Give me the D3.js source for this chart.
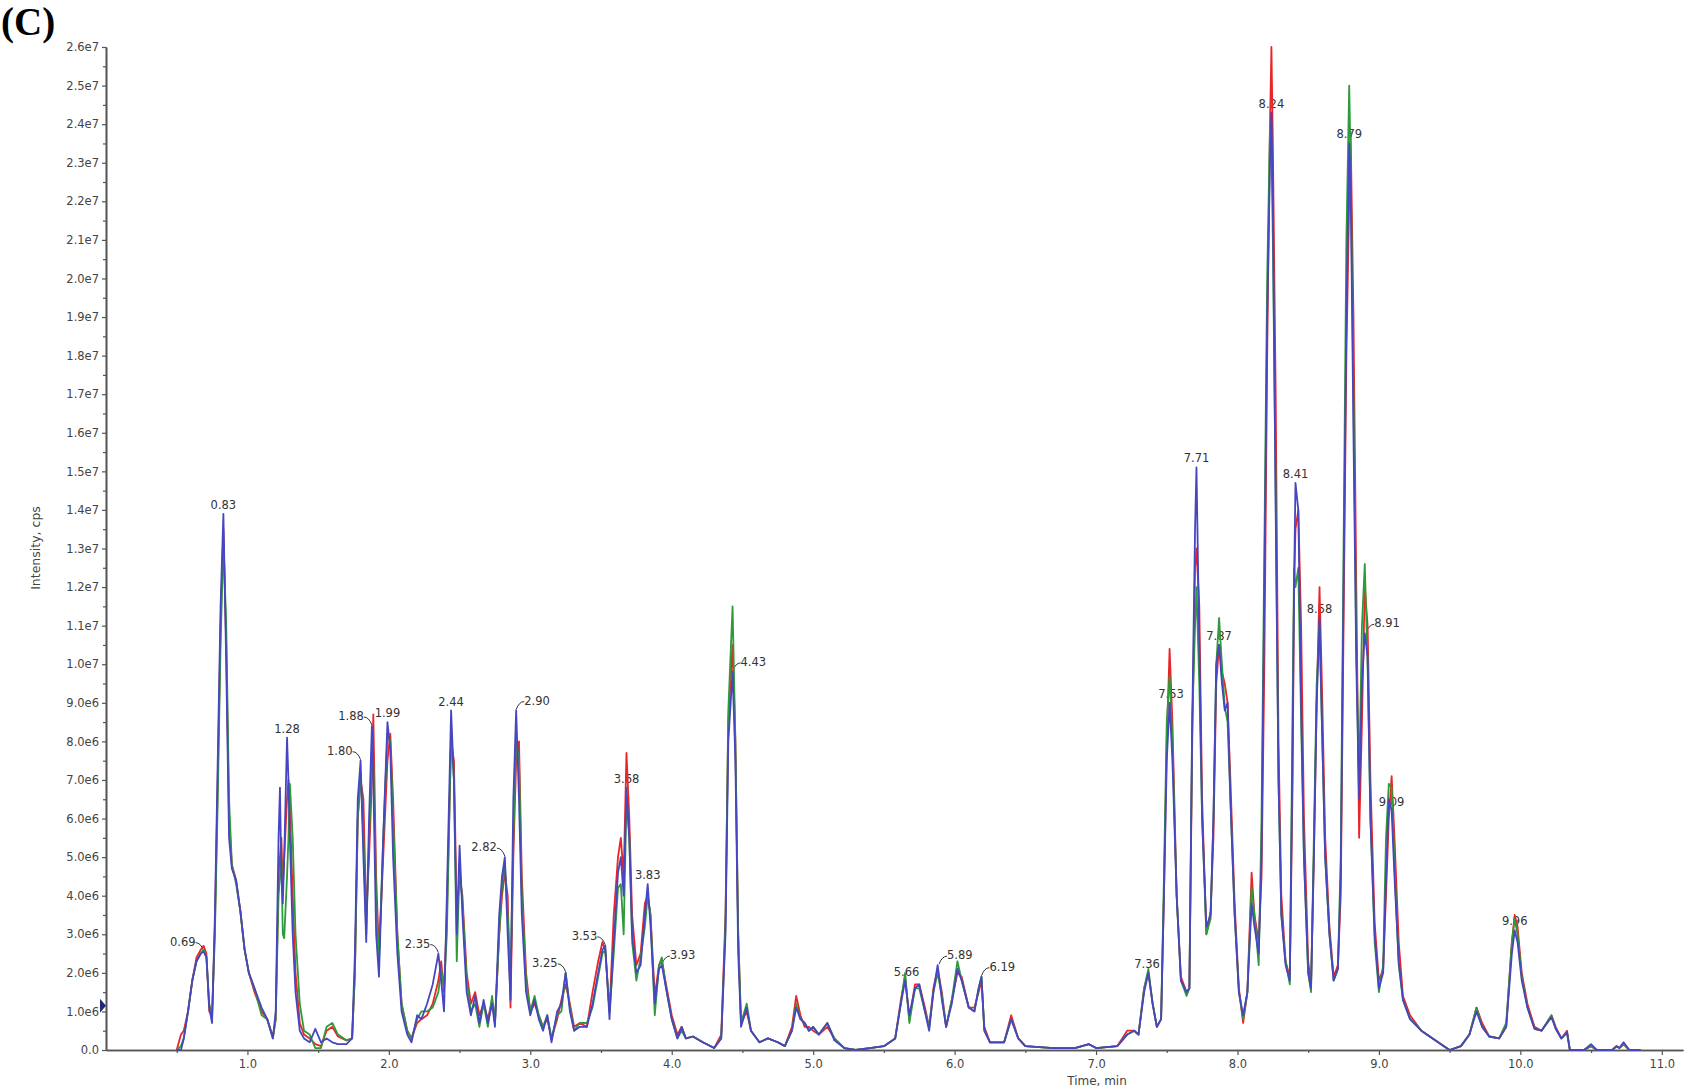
<!DOCTYPE html>
<html>
<head>
<meta charset="utf-8">
<script src="https://cdn.jsdelivr.net/npm/d3@7"></script>
<style>
  html, body { margin: 0; padding: 0; background: #fff; }
  svg { display: block; }
</style>
</head>
<body>
<svg id="chart" width="1699" height="1091"></svg>
<script>
// ---------------- DATA (intensity in units of 1e6 cps) ----------------
const times = [
  0.50,0.53,0.55,0.58,0.61,0.64,0.67,0.69,0.71,0.73,
  0.75,0.77,0.79,0.81,0.83,0.85,0.87,0.89,0.92,0.95,
  0.98,1.01,1.05,1.10,1.14,1.18,1.20,1.22,1.23,1.24,
  1.25,1.26,1.28,1.29,1.30,1.32,1.34,1.37,1.40,1.44,
  1.48,1.52,1.56,1.60,1.64,1.70,1.74,1.76,1.78,1.80,
  1.82,1.84,1.86,1.88,1.89,1.91,1.93,1.96,1.99,2.01,
  2.03,2.06,2.09,2.13,2.16,2.20,2.23,2.27,2.31,2.35,
  2.37,2.39,2.41,2.44,2.46,2.48,2.50,2.52,2.55,2.58,
  2.61,2.64,2.67,2.70,2.73,2.75,2.78,2.80,2.82,2.84,
  2.86,2.88,2.90,2.92,2.94,2.97,3.00,3.03,3.06,3.09,
  3.12,3.15,3.19,3.22,3.25,3.28,3.31,3.35,3.40,3.44,
  3.48,3.51,3.53,3.56,3.59,3.62,3.64,3.66,3.68,3.70,
  3.72,3.75,3.78,3.81,3.83,3.85,3.88,3.91,3.93,3.96,
  4.00,4.04,4.07,4.10,4.15,4.22,4.30,4.35,4.38,4.40,
  4.43,4.45,4.47,4.49,4.53,4.56,4.62,4.68,4.75,4.80,
  4.85,4.88,4.91,4.94,4.97,5.00,5.04,5.10,5.15,5.22,
  5.30,5.40,5.50,5.58,5.62,5.65,5.68,5.72,5.75,5.79,
  5.82,5.85,5.88,5.91,5.94,5.98,6.02,6.05,6.10,6.14,
  6.17,6.19,6.21,6.25,6.30,6.35,6.40,6.45,6.50,6.70,
  6.85,6.95,7.00,7.15,7.22,7.27,7.30,7.34,7.37,7.40,
  7.43,7.46,7.48,7.50,7.52,7.54,7.57,7.60,7.64,7.66,
  7.68,7.70,7.71,7.73,7.75,7.78,7.81,7.83,7.85,7.87,
  7.89,7.91,7.93,7.95,7.98,8.01,8.04,8.07,8.10,8.12,
  8.15,8.17,8.19,8.21,8.23,8.24,8.25,8.27,8.29,8.31,
  8.34,8.37,8.39,8.40,8.41,8.43,8.45,8.47,8.50,8.52,
  8.54,8.56,8.58,8.60,8.62,8.65,8.68,8.71,8.73,8.75,
  8.77,8.79,8.80,8.82,8.84,8.86,8.88,8.90,8.92,8.94,
  8.97,9.00,9.03,9.05,9.07,9.09,9.11,9.14,9.17,9.22,
  9.30,9.38,9.46,9.50,9.58,9.64,9.69,9.73,9.78,9.85,
  9.90,9.94,9.96,9.98,10.01,10.05,10.10,10.15,10.22,10.25,
  10.29,10.33,10.35,10.45,10.50,10.54,10.65,10.68,10.70,10.73,
  10.77,10.85
];
const blueSeries = [
  0,0,0.3,1.0,1.8,2.3,2.5,2.55,2.4,1.1,
  0.7,3.5,7.5,11.5,13.9,10.0,5.5,4.7,4.4,3.6,
  2.6,2.0,1.6,1.1,0.8,0.3,1.0,5.5,6.8,4.5,
  3.8,5.0,8.1,7.0,5.5,3.0,1.5,0.5,0.3,0.2,
  0.55,0.2,0.3,0.2,0.15,0.15,0.3,2.5,6.5,7.5,
  5.0,2.8,6.0,8.4,7.0,3.0,1.9,5.5,8.5,7.8,
  5.0,2.5,1.0,0.4,0.2,0.9,0.8,1.2,1.7,2.5,
  1.8,1.0,4.0,8.8,7.0,3.0,5.3,3.5,1.5,0.9,
  1.4,0.7,1.3,0.7,1.2,0.6,3.5,4.5,5.0,3.0,
  1.3,6.5,8.8,6.5,3.5,1.5,0.9,1.3,0.8,0.5,
  0.9,0.2,1.0,1.2,2.0,1.0,0.5,0.6,0.6,1.2,
  2.0,2.6,2.7,0.8,2.8,4.6,5.0,4.0,6.8,5.5,
  3.0,2.0,2.2,3.5,4.3,3.2,1.2,2.1,2.2,1.6,
  0.8,0.3,0.6,0.3,0.35,0.2,0.05,0.3,3.0,8.0,
  9.8,7.5,2.5,0.6,1.1,0.5,0.2,0.3,0.2,0.1,
  0.5,1.1,0.8,0.7,0.5,0.6,0.4,0.7,0.25,0.05,
  0,0.05,0.1,0.3,1.2,1.8,0.9,1.6,1.7,1.0,
  0.5,1.5,2.2,1.3,0.6,1.2,2.1,1.8,1.1,1.0,
  1.6,1.9,0.5,0.2,0.2,0.2,0.8,0.3,0.1,0.05,
  0.05,0.15,0.05,0.1,0.4,0.5,0.4,1.5,2.0,1.2,
  0.6,0.8,4.0,7.5,9.0,7.5,4.0,1.8,1.5,1.6,
  8.5,13.5,15.1,10.5,6.0,3.2,3.5,6.0,10.0,10.5,
  9.5,8.8,9.0,6.5,3.5,1.5,0.9,1.5,3.8,3.2,
  2.5,5.0,12.0,19.0,23.0,24.3,22.0,14.0,7.0,3.5,
  2.2,1.8,8.0,12.0,14.7,14.0,9.0,5.0,2.0,1.6,
  5.0,9.0,11.2,8.0,5.0,3.0,1.8,2.1,4.5,12.0,
  19.0,23.5,22.5,16.0,10.0,6.5,9.5,10.8,10.2,6.0,
  3.0,1.6,2.0,4.5,6.5,6.2,4.5,2.3,1.3,0.8,
  0.5,0.3,0.1,0,0.1,0.4,1.0,0.6,0.35,0.3,
  0.6,2.5,3.1,2.8,1.8,1.1,0.55,0.5,0.85,0.55,
  0.3,0.45,0,0,0.15,0,0,0.1,0.05,0.2,
  0,0
];
const redSeries = [
  0,0.4,0.5,1.0,1.8,2.4,2.6,2.7,2.5,1.0,
  0.9,3.2,7.0,11.0,13.5,10.5,6.0,4.8,4.4,3.6,
  2.6,2.0,1.5,1.0,0.8,0.35,0.8,4.5,5.0,5.5,
  4.2,5.0,6.5,7.0,6.3,4.0,2.0,0.7,0.4,0.3,
  0.15,0.1,0.5,0.6,0.35,0.25,0.3,2.0,6.0,7.0,
  6.5,3.5,5.0,7.0,8.7,4.5,2.5,5.0,7.5,8.2,
  6.5,3.0,1.2,0.5,0.3,0.7,0.8,0.9,1.2,1.8,
  2.3,1.5,3.5,8.0,7.5,3.5,4.5,4.0,2.0,1.2,
  1.5,0.9,1.2,0.8,1.3,0.7,3.0,4.0,4.6,4.0,
  1.1,5.0,7.5,8.0,4.5,2.0,1.0,1.2,0.9,0.6,
  0.8,0.3,0.8,1.3,1.7,1.2,0.6,0.7,0.6,1.5,
  2.3,2.8,2.6,1.0,3.5,5.0,5.5,4.5,7.7,6.0,
  3.5,2.2,2.5,3.8,4.0,3.5,1.4,2.2,2.3,1.7,
  0.9,0.4,0.6,0.3,0.35,0.2,0.05,0.4,3.5,8.5,
  10.5,8.0,3.0,0.7,1.0,0.5,0.2,0.3,0.2,0.1,
  0.6,1.4,0.9,0.6,0.6,0.5,0.4,0.6,0.3,0.05,
  0,0.05,0.1,0.3,1.3,1.9,0.8,1.7,1.7,1.1,
  0.6,1.6,2.1,1.5,0.6,1.3,2.0,1.9,1.1,1.1,
  1.5,1.8,0.6,0.2,0.2,0.2,0.9,0.3,0.1,0.05,
  0.05,0.15,0.05,0.1,0.5,0.5,0.4,1.6,2.0,1.2,
  0.6,0.8,4.0,8.0,10.4,8.5,4.0,1.9,1.5,1.6,
  8.0,12.5,13.0,11.5,6.5,3.0,3.6,5.5,9.5,10.5,
  9.8,9.5,9.0,7.0,3.8,1.6,0.7,1.5,4.6,3.5,
  2.8,4.5,10.0,18.0,24.0,26.0,23.5,17.0,8.0,4.0,
  2.3,1.9,7.0,12.0,13.5,14.0,11.0,6.0,2.3,1.7,
  5.0,9.0,12.0,9.0,5.5,3.2,1.9,2.2,4.0,11.0,
  18.0,22.0,23.8,19.0,12.0,5.5,8.5,12.0,11.0,7.0,
  3.3,1.8,2.1,4.0,6.0,7.1,5.5,2.8,1.4,0.9,
  0.5,0.3,0.1,0,0.1,0.4,1.1,0.7,0.35,0.3,
  0.6,2.8,3.5,3.2,2.0,1.2,0.6,0.5,0.9,0.6,
  0.3,0.5,0,0,0.1,0,0,0.1,0.05,0.15,
  0,0
];
const greenSeries = [
  0,0.1,0.3,1.0,1.8,2.3,2.5,2.6,2.4,1.2,
  0.9,3.0,6.5,10.5,13.2,11.0,6.5,4.8,4.3,3.6,
  2.6,2.0,1.6,0.9,0.8,0.3,0.8,4.0,4.5,5.0,
  3.0,2.9,4.5,5.5,6.9,5.5,3.0,1.2,0.5,0.4,
  0.05,0.05,0.6,0.7,0.4,0.25,0.3,2.0,6.0,7.2,
  5.5,3.0,5.5,7.5,7.5,4.0,2.3,5.5,8.2,8.0,
  6.0,3.0,1.2,0.5,0.3,0.8,1.0,1.0,1.1,1.5,
  2.1,1.6,3.0,8.2,7.0,2.3,4.8,3.8,1.8,1.0,
  1.2,0.6,1.2,0.6,1.4,0.7,3.0,4.3,4.8,3.5,
  1.8,5.5,8.0,7.5,4.0,1.8,1.0,1.4,0.9,0.6,
  0.9,0.3,0.9,1.0,2.0,1.1,0.5,0.7,0.7,1.1,
  1.9,2.5,2.6,1.0,2.5,4.2,4.3,3.0,6.5,5.5,
  2.8,1.8,2.4,3.2,4.0,3.5,0.9,2.2,2.4,1.6,
  0.8,0.3,0.5,0.3,0.35,0.2,0.05,0.3,3.2,8.8,
  11.5,8.0,3.0,0.7,1.2,0.5,0.2,0.3,0.2,0.1,
  0.5,1.2,0.8,0.7,0.5,0.6,0.4,0.7,0.3,0.05,
  0,0.05,0.1,0.3,1.2,2.0,0.7,1.6,1.6,1.0,
  0.6,1.5,2.0,1.4,0.6,1.3,2.3,1.8,1.1,1.0,
  1.6,1.9,0.5,0.2,0.2,0.2,0.8,0.3,0.1,0.05,
  0.05,0.15,0.05,0.1,0.4,0.5,0.4,1.6,2.1,1.2,
  0.6,0.8,4.5,8.5,9.7,8.0,4.0,1.8,1.4,1.6,
  8.5,11.0,12.0,9.5,6.0,3.0,3.4,6.0,10.0,11.2,
  10.0,8.9,8.5,6.5,3.5,1.5,0.8,1.5,4.2,3.5,
  2.2,6.0,13.0,20.0,24.0,23.5,21.0,14.5,7.0,3.5,
  2.3,1.7,9.0,12.5,12.0,12.5,8.5,5.0,2.0,1.5,
  5.5,9.5,11.0,8.0,5.0,3.0,1.8,2.1,5.0,13.0,
  21.0,25.0,23.0,17.0,10.5,7.0,11.0,12.6,10.0,6.0,
  2.8,1.5,2.2,5.5,6.9,6.8,4.8,2.2,1.3,0.8,
  0.5,0.3,0.1,0,0.1,0.4,1.1,0.6,0.35,0.3,
  0.7,2.8,3.4,3.0,1.9,1.1,0.55,0.5,0.9,0.55,
  0.3,0.45,0,0,0.1,0,0,0.1,0.05,0.15,
  0,0
];

const yTickValues = d3.range(0, 27);   // ×1e6
const yTickLabels = ["0.0","1.0e6","2.0e6","3.0e6","4.0e6","5.0e6","6.0e6","7.0e6","8.0e6","9.0e6",
  "1.0e7","1.1e7","1.2e7","1.3e7","1.4e7","1.5e7","1.6e7","1.7e7","1.8e7","1.9e7",
  "2.0e7","2.1e7","2.2e7","2.3e7","2.4e7","2.5e7","2.6e7"];
const xTickValues = [1,2,3,4,5,6,7,8,9,10,11];
const xTickLabels = ["1.0","2.0","3.0","4.0","5.0","6.0","7.0","8.0","9.0","10.0","11.0"];

const peakLabels = ["0.69","0.83","1.28","1.80","1.88","1.99","2.35","2.44","2.82","2.90",
  "3.25","3.53","3.68","3.83","3.93","4.43","5.66","5.89","6.19","7.36",
  "7.53","7.71","7.87","8.24","8.41","8.58","8.79","8.91","9.09","9.96"];
const peakLabelSides = ["l","c","c","l","l","c","l","c","l","r",
  "l","l","c","c","r","r","c","r","r","c",
  "c","c","c","c","c","c","c","r","c","c"];

const seriesNames = ["red","green","blue"];
const seriesColors = ["#e8262a","#2e9a3a","#4646c0"];
const markerValue = 1.15;

// ---------------- DRAW ----------------
const svg = d3.select("#chart");
svg.append("rect").attr("width",1699).attr("height",1091).attr("fill","#fff");

const x = d3.scaleLinear().domain([0, 11.15]).range([106, 1683]);
const y = d3.scaleLinear().domain([0, 26]).range([1050, 47]);

const axisColor = "#555";
const textColor = "#444";
const fontFam = "'DejaVu Sans', Verdana, sans-serif";

// title
svg.append("text").attr("x", 1).attr("y", 35)
  .attr("font-family", "'Liberation Serif','Times New Roman',serif")
  .attr("font-weight", "bold").attr("font-size", 39).attr("fill", "#000")
  .text("(C)");

// y axis
const yAxis = svg.append("g").attr("transform", "translate(106,0)")
  .call(d3.axisLeft(y).tickValues(yTickValues).tickFormat((d,i)=>yTickLabels[i]).tickSize(4).tickSizeOuter(0).tickPadding(3));
const yMinor = svg.append("g").attr("transform", "translate(106,0)")
  .call(d3.axisLeft(y).tickValues(d3.range(0.5, 26, 1)).tickFormat("").tickSize(3).tickSizeOuter(0));
// x axis
const xAxis = svg.append("g").attr("transform", "translate(0,1050)")
  .call(d3.axisBottom(x).tickValues(xTickValues).tickFormat((d,i)=>xTickLabels[i]).tickSize(5).tickSizeOuter(0).tickPadding(5));
const xMinor = svg.append("g").attr("transform", "translate(0,1050)")
  .call(d3.axisBottom(x).tickValues(d3.range(0.5, 11.1, 1)).tickFormat("").tickSize(3).tickSizeOuter(0));

[yAxis, yMinor, xAxis, xMinor].forEach(g => {
  g.select(".domain").attr("stroke", axisColor).attr("stroke-width", 1.6);
  g.selectAll(".tick line").attr("stroke", axisColor).attr("stroke-width", 1.2);
  g.selectAll(".tick text").attr("fill", textColor).attr("font-family", fontFam).attr("font-size", 11.5);
});

// axis titles
svg.append("text").attr("x", 1097).attr("y", 1085).attr("text-anchor", "middle")
  .attr("font-family", fontFam).attr("font-size", 12).attr("fill", textColor).text("Time, min");
svg.append("text").attr("transform", "translate(40,548) rotate(-90)").attr("text-anchor", "middle")
  .attr("font-family", fontFam).attr("font-size", 12.5).attr("fill", textColor).text("Intensity, cps");

// marker triangle on y axis
const my = y(markerValue);
svg.append("path").attr("d", `M100,${my-7} L106,${my} L100,${my+7} Z`).attr("fill", "#1f2a7a");

// peak labels (drawn beneath the traces)
const labelsG = svg.append("g");
function peakValueNear(t) {
  let best = 0;
  times.forEach((tt, i) => { if (Math.abs(tt - t) <= 0.0151 && blueSeries[i] > best) best = blueSeries[i]; });
  return best;
}
peakLabels.forEach((lab, k) => {
  const t = +lab;
  const v = peakValueNear(t);
  const px = x(t), py = y(v);
  const side = peakLabelSides[k];
  const txt = labelsG.append("text").attr("font-family", fontFam).attr("font-size", 11.5).attr("fill", "#333");
  if (side === "c") {
    txt.attr("x", px).attr("y", py - 5).attr("text-anchor", "middle").text(lab);
  } else if (side === "l") {
    txt.attr("x", px - 8).attr("y", py - 6).attr("text-anchor", "end").text(lab);
    labelsG.append("path").attr("d", `M${px-8},${py-9} Q${px-3},${py-9} ${px},${py-1}`)
      .attr("fill", "none").attr("stroke", "#333").attr("stroke-width", 1);
  } else {
    txt.attr("x", px + 8).attr("y", py - 6).attr("text-anchor", "start").text(lab);
    labelsG.append("path").attr("d", `M${px+8},${py-9} Q${px+3},${py-9} ${px},${py-1}`)
      .attr("fill", "none").attr("stroke", "#333").attr("stroke-width", 1);
  }
});

// traces
const allSeries = [redSeries, greenSeries, blueSeries];
const line = d3.line().x((d, i) => x(times[i])).y(d => y(d));
allSeries.forEach((s, k) => {
  svg.append("path").datum(s).attr("d", line)
    .attr("fill", "none").attr("stroke", seriesColors[k])
    .attr("stroke-width", 1.8).attr("stroke-linejoin", "round")
    .attr("class", "trace-" + seriesNames[k]);
});
</script>
</body>
</html>
